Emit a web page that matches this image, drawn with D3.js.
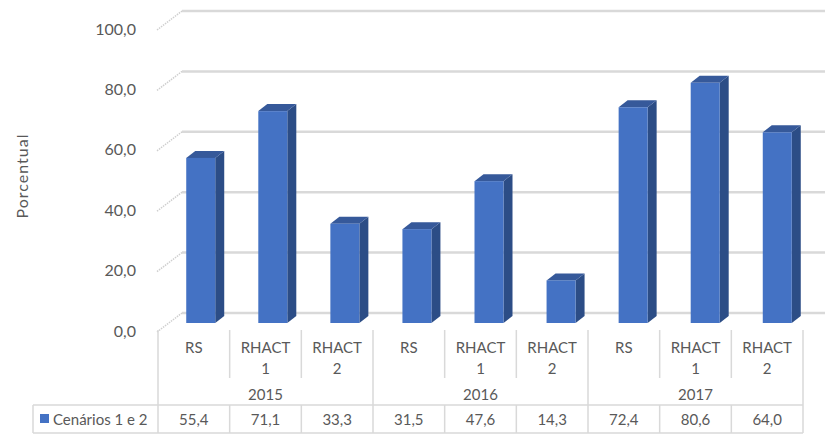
<!DOCTYPE html>
<html>
<head>
<meta charset="utf-8">
<script src="https://cdn.jsdelivr.net/npm/d3@7"></script>
<style>
  body { margin: 0; background: #fff; }
  text { font-family: Lato, "Open Sans", sans-serif; fill: #595959; }
</style>
</head>
<body>
<div id="chart"></div>
<script>
/* DATA */
const years = ["2015", "2016", "2017"];
const scenarios = ["RS", "RHACT 1", "RHACT 2"];
const seriesName = "Cenários 1 e 2";
const values = [55.4, 71.1, 33.3, 31.5, 47.6, 14.3, 72.4, 80.6, 64.0];
const yTicks = [0, 20, 40, 60, 80, 100];

/* CONFIGURATION */
const config = {
    width: 825,
    height: 434,
    depth: { dx: 25, dy: -19 },     // back wall offset
    bar: { w: 29, dx: 9, dy: -7 },  // bar front width + side depth
    table: { left: 158, right: 803, top: 330, catBottom: 378, rowTop: 405, bottom: 433, legendLeft: 33 }
};
const grid = "#d9d9d9";
const fmt = v => v.toFixed(1).replace(".", ",");

const svg = d3.select("#chart").append("svg")
    .attr("width", config.width)
    .attr("height", config.height);

const cats = d3.range(values.length);

// front axis scale (tick labels) and bar scale
const yFront = d3.scaleLinear().domain([0, 100]).range([332, 30]);
const yBar = d3.scaleLinear().domain([0, 100]).range([323, 25]);

// table columns and bar positions
const xCol = d3.scaleBand().domain(cats).range([config.table.left, config.table.right]);
const xBar = d3.scalePoint().domain(cats).range([164.7, 813.3]).padding(0.5);

/* BACK WALL GRID */
const gridG = svg.append("g");
yTicks.forEach(t => {
    const y0 = yFront(t);
    gridG.append("line")
        .attr("x1", config.table.left - 1).attr("y1", y0)
        .attr("x2", config.table.left - 1 + config.depth.dx).attr("y2", y0 + config.depth.dy)
        .attr("stroke", "#cfcfcf").attr("stroke-width", 1.5)
        .attr("stroke-dasharray", "1.5,1");
    gridG.append("line")
        .attr("x1", config.table.left - 1 + config.depth.dx).attr("y1", y0 + config.depth.dy)
        .attr("x2", config.width).attr("y2", y0 + config.depth.dy)
        .attr("stroke", grid).attr("stroke-width", 2.5);
});

// Y axis labels
const yAxis = svg.append("g")
    .attr("transform", "translate(139,-1)")
    .call(d3.axisLeft(yFront).tickValues(yTicks).tickFormat(fmt).tickSize(0));
yAxis.select(".domain").remove();
yAxis.selectAll("text")
    .style("font-size", "16px")
    .style("fill", "#595959")
    .style("font-family", "Lato, sans-serif");

svg.append("text")
    .attr("transform", "translate(28,176) rotate(-90)")
    .attr("text-anchor", "middle")
    .style("font-size", "16px")
    .style("letter-spacing", "1px")
    .text("Porcentual");

/* BARS */
const bars = svg.selectAll(".bar")
    .data(values)
    .enter()
    .append("g")
    .attr("class", "bar");

bars.each(function(v, i) {
    const g = d3.select(this);
    const b = config.bar;
    const x0 = xBar(i) - b.w / 2;
    const x1 = x0 + b.w;
    const top = yBar(v);
    const bot = yBar(0);
    g.append("path")
        .attr("d", `M${x1},${top}L${x1 + b.dx},${top + b.dy}L${x1 + b.dx},${bot + b.dy}L${x1},${bot}Z`)
        .attr("fill", "#2c4d86");
    g.append("path")
        .attr("d", `M${x0},${top}L${x0 + b.dx},${top + b.dy}L${x1 + b.dx},${top + b.dy}L${x1},${top}Z`)
        .attr("fill", "#36599a");
    g.append("rect")
        .attr("x", x0).attr("y", top)
        .attr("width", b.w).attr("height", bot - top)
        .attr("fill", "#4472c4");
});

/* TABLE */
const t = config.table;
const lines = svg.append("g").attr("stroke", grid).attr("stroke-width", 1.5);

// vertical borders
cats.concat([values.length]).forEach(i => {
    const x = i < values.length ? xCol(i) : t.right;
    const groupEdge = i % scenarios.length === 0;
    if (groupEdge) {
        lines.append("line").attr("x1", x).attr("x2", x).attr("y1", t.top).attr("y2", t.bottom);
    } else {
        lines.append("line").attr("x1", x).attr("x2", x).attr("y1", t.top).attr("y2", t.catBottom);
        lines.append("line").attr("x1", x).attr("x2", x).attr("y1", t.rowTop).attr("y2", t.bottom);
    }
});
lines.append("line").attr("x1", t.legendLeft).attr("x2", t.legendLeft).attr("y1", t.rowTop).attr("y2", t.bottom);
[t.rowTop, t.bottom].forEach(y => {
    lines.append("line").attr("x1", t.legendLeft).attr("x2", t.right).attr("y1", y).attr("y2", y);
});

// category labels
cats.forEach(i => {
    const parts = scenarios[i % scenarios.length].split(" ");
    const txt = svg.append("text")
        .attr("x", xCol(i) + xCol.bandwidth() / 2)
        .attr("y", 353)
        .attr("text-anchor", "middle")
        .style("font-size", "15px");
    parts.forEach((p, k) => {
        txt.append("tspan")
            .attr("x", xCol(i) + xCol.bandwidth() / 2)
            .attr("dy", k === 0 ? 0 : 21)
            .text(p);
    });
});

// year labels
years.forEach((yr, j) => {
    const xa = xCol(j * scenarios.length);
    const xb = xa + xCol.bandwidth() * scenarios.length;
    svg.append("text")
        .attr("x", (xa + xb) / 2)
        .attr("y", 400)
        .attr("text-anchor", "middle")
        .style("font-size", "15px")
        .text(yr);
});

// data row
cats.forEach(i => {
    svg.append("text")
        .attr("x", xCol(i) + xCol.bandwidth() / 2)
        .attr("y", 425)
        .attr("text-anchor", "middle")
        .style("font-size", "15px")
        .text(fmt(values[i]));
});

svg.append("rect")
    .attr("x", 40).attr("y", 414)
    .attr("width", 9).attr("height", 9)
    .attr("fill", "#4472c4");
svg.append("text")
    .attr("x", 53)
    .attr("y", 425)
    .style("font-size", "15px")
    .text(seriesName);
</script>
</body>
</html>
